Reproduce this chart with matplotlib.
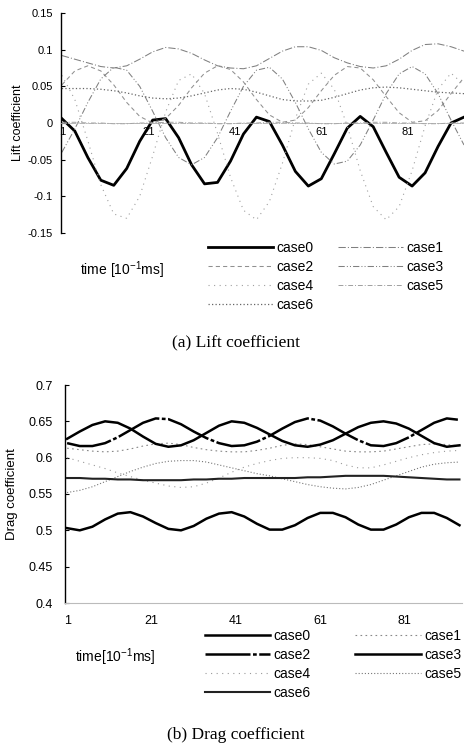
import matplotlib
matplotlib.use('Agg')
import matplotlib.pyplot as plt

plt.rcParams['font.family'] = ['Liberation Sans', 'DejaVu Sans']
plt.rcParams['axes.unicode_minus'] = False

# --------------------------
# data
# --------------------------
time_steps = list(range(1, 95, 3))
case_names = ['case0', 'case1', 'case2', 'case3', 'case4', 'case5', 'case6']
x_ticks = [1, 21, 41, 61, 81]

lift_case0 = [0.006, -0.011, -0.047, -0.078, -0.085, -0.062, -0.025, 0.004, 0.006, -0.020,
              -0.057, -0.083, -0.081, -0.052, -0.015, 0.008, 0.002, -0.030, -0.066, -0.086,
              -0.076, -0.042, -0.007, 0.009, -0.005, -0.040, -0.074, -0.086, -0.068, -0.032,
              0.000, 0.008]
lift_case1 = [0.092, 0.087, 0.082, 0.077, 0.075, 0.078, 0.087, 0.097, 0.103, 0.101,
              0.095, 0.086, 0.078, 0.075, 0.074, 0.078, 0.088, 0.098, 0.104, 0.104,
              0.099, 0.089, 0.082, 0.077, 0.075, 0.078, 0.087, 0.099, 0.107, 0.108,
              0.104, 0.098]
lift_case2 = [0.052, 0.071, 0.078, 0.071, 0.052, 0.028, 0.009, 0.000, 0.006, 0.024,
              0.048, 0.068, 0.078, 0.073, 0.056, 0.032, 0.011, 0.001, 0.004, 0.021,
              0.044, 0.065, 0.077, 0.075, 0.059, 0.036, 0.014, 0.001, 0.003, 0.017,
              0.040, 0.062]
lift_case3 = [-0.040, -0.008, 0.028, 0.060, 0.076, 0.072, 0.050, 0.016, -0.020, -0.047,
              -0.057, -0.047, -0.020, 0.016, 0.050, 0.072, 0.076, 0.060, 0.028, -0.008,
              -0.040, -0.056, -0.052, -0.030, 0.004, 0.040, 0.067, 0.077, 0.067, 0.040,
              0.004, -0.030]
lift_case4 = [0.065, 0.032, -0.024, -0.084, -0.124, -0.130, -0.100, -0.045, 0.015, 0.058,
              0.067, 0.040, -0.014, -0.074, -0.119, -0.132, -0.107, -0.055, 0.006, 0.053,
              0.068, 0.046, -0.004, -0.065, -0.114, -0.132, -0.114, -0.065, -0.004, 0.046,
              0.068, 0.052]
lift_case5 = [0.001, 0.001, 0.000, 0.000, -0.001, -0.001, 0.000, 0.000, 0.001, 0.001,
              0.000, 0.000, -0.001, -0.001, 0.000, 0.000, 0.001, 0.001, 0.000, 0.000,
              -0.001, -0.001, 0.000, 0.000, 0.001, 0.001, 0.000, 0.000, -0.001, -0.001,
              0.000, 0.000]
lift_case6 = [0.047, 0.047, 0.047, 0.046, 0.044, 0.041, 0.037, 0.034, 0.033, 0.034,
              0.037, 0.041, 0.045, 0.047, 0.046, 0.042, 0.037, 0.032, 0.030, 0.030,
              0.031, 0.035, 0.040, 0.045, 0.048, 0.049, 0.048, 0.046, 0.044, 0.042,
              0.041, 0.040]

drag_case0 = [0.503, 0.500, 0.505, 0.515, 0.523, 0.525, 0.519, 0.510, 0.502, 0.500,
              0.506, 0.516, 0.523, 0.525, 0.519, 0.509, 0.501, 0.501, 0.507, 0.517,
              0.524, 0.524, 0.518, 0.508, 0.501, 0.501, 0.508, 0.518, 0.524, 0.524,
              0.517, 0.507]
drag_case1 = [0.613, 0.611, 0.609, 0.608, 0.609, 0.612, 0.616, 0.619, 0.620, 0.618,
              0.614, 0.611, 0.609, 0.608, 0.608, 0.610, 0.613, 0.617, 0.619, 0.618,
              0.615, 0.612, 0.609, 0.608, 0.608, 0.609, 0.612, 0.615, 0.618, 0.619,
              0.618, 0.616]
drag_case2 = [0.620, 0.616, 0.616, 0.620, 0.628, 0.638, 0.648, 0.654, 0.653, 0.646,
              0.636, 0.627, 0.620, 0.616, 0.617, 0.622, 0.630, 0.640, 0.649, 0.654,
              0.651, 0.643, 0.633, 0.624, 0.617, 0.616, 0.620, 0.628, 0.638, 0.648,
              0.654, 0.652]
drag_case3 = [0.626, 0.636, 0.645, 0.650, 0.648, 0.640, 0.629, 0.619, 0.615, 0.617,
              0.624, 0.634, 0.644, 0.650, 0.648, 0.641, 0.632, 0.623, 0.617, 0.615,
              0.618, 0.624, 0.633, 0.642, 0.648, 0.650, 0.647, 0.640, 0.630, 0.620,
              0.615, 0.617]
drag_case4 = [0.600, 0.595, 0.590, 0.585, 0.579, 0.574, 0.569, 0.565, 0.561, 0.559,
              0.560, 0.565, 0.572, 0.580, 0.587, 0.592, 0.596, 0.599, 0.600, 0.600,
              0.599, 0.596, 0.590, 0.586, 0.586, 0.590, 0.595, 0.600, 0.604, 0.607,
              0.609, 0.610]
drag_case5 = [0.552, 0.555, 0.560, 0.567, 0.574, 0.581, 0.587, 0.592, 0.595, 0.596,
              0.596, 0.594, 0.590, 0.586, 0.582, 0.578, 0.575, 0.571, 0.567, 0.563,
              0.560, 0.558, 0.557, 0.559, 0.563, 0.569, 0.575, 0.581, 0.587, 0.591,
              0.593, 0.594]
drag_case6 = [0.572, 0.572, 0.571, 0.571, 0.570, 0.570, 0.569, 0.569, 0.569, 0.569,
              0.570, 0.570, 0.571, 0.571, 0.572, 0.572, 0.572, 0.572, 0.572, 0.573,
              0.573, 0.574, 0.575, 0.575, 0.575, 0.575, 0.574, 0.573, 0.572, 0.571,
              0.570, 0.570]

lift_data = [lift_case0, lift_case1, lift_case2, lift_case3, lift_case4, lift_case5, lift_case6]
drag_data = [drag_case0, drag_case1, drag_case2, drag_case3, drag_case4, drag_case5, drag_case6]

# line styles (scanned figure, mostly greys)
lift_styles = [
    dict(color='black', lw=2.0, ls='-'),
    dict(color='#808080', lw=0.75, ls=(0, (7, 2, 1, 2))),
    dict(color='#909090', lw=0.75, ls=(0, (4, 3))),
    dict(color='#808080', lw=0.75, ls=(0, (6, 2, 1, 2, 1, 2))),
    dict(color='#a0a0a0', lw=0.8, ls=(0, (1, 4))),
    dict(color='#a0a0a0', lw=0.7, ls=(0, (5, 2, 1, 2))),
    dict(color='#666666', lw=0.9, ls=(0, (1, 1.8))),
]
drag_styles = [
    dict(color='black', lw=1.8, ls='-'),
    dict(color='#888888', lw=0.8, ls=(0, (1.5, 3))),
    dict(color='black', lw=1.8, ls=(0, (18, 1, 1.5, 1))),
    dict(color='black', lw=1.8, ls='-'),
    dict(color='#9a9a9a', lw=0.8, ls=(0, (1, 4))),
    dict(color='#777777', lw=0.8, ls=(0, (1, 1.8))),
    dict(color='#222222', lw=1.5, ls='-'),
]

W, H = 467, 747
fig = plt.figure(figsize=(W / 100, H / 100), dpi=100)

def style_axes(ax, ylim, yticks, ylabels, ylabel, ypad, tsize, lsize):
    ax.set_ylim(*ylim)
    ax.set_yticks(yticks)
    ax.set_yticklabels(ylabels)
    ax.set_xticks(x_ticks)
    ax.set_xticklabels([str(v) for v in x_ticks])
    ax.spines['top'].set_visible(False)
    ax.spines['right'].set_visible(False)
    ax.spines['left'].set_linewidth(1.0)
    ax.tick_params(axis='y', direction='in', length=3, width=0.8, labelsize=tsize, pad=ypad)
    ax.tick_params(axis='x', length=0, labelsize=tsize)
    ax.set_ylabel(ylabel, fontsize=lsize)

# --------------------------
# (a) lift coefficient
# --------------------------
ax1 = fig.add_axes([61 / W, 1 - 233 / H, 403 / W, 220 / H])
for vals, st in zip(lift_data, lift_styles):
    ax1.plot(time_steps, vals, **st)
ax1.set_xlim(0.8, 94)
style_axes(ax1, (-0.15, 0.15), [-0.15, -0.1, -0.05, 0, 0.05, 0.1, 0.15],
           ['-0.15', '-0.1', '-0.05', '0', '0.05', '0.1', '0.15'], 'Lift coefficient', 6, 8, 9)
ax1.spines['bottom'].set_position(('data', 0))
ax1.spines['bottom'].set_color('#aaaaaa')
ax1.spines['bottom'].set_linewidth(0.6)
ax1.spines['bottom'].set_linestyle((0, (6, 2, 1, 2)))
ax1.tick_params(axis='x', pad=3)
ax1.yaxis.set_label_coords(-0.092, 0.5)

# --------------------------
# (b) drag coefficient
# --------------------------
ax2 = fig.add_axes([65 / W, 1 - 603 / H, 397 / W, 218 / H])
for vals, st in zip(drag_data, drag_styles):
    ax2.plot(time_steps, vals, **st)
ax2.set_xlim(0.5, 94.6)
style_axes(ax2, (0.4, 0.7), [0.4, 0.45, 0.5, 0.55, 0.6, 0.65, 0.7],
           ['0.4', '0.45', '0.5', '0.55', '0.6', '0.65', '0.7'], 'Drag coefficient', 9, 9, 9.5)
ax2.spines['bottom'].set_color('#bbbbbb')
ax2.spines['bottom'].set_linewidth(0.8)
ax2.tick_params(axis='x', pad=9)
ax2.yaxis.set_label_coords(-0.118, 0.5)

# --------------------------
# legends, axis titles, captions
# --------------------------
order = [0, 2, 4, 6, 1, 3, 5]

def add_legend(ax, x, y, colspace):
    lines = ax.get_lines()
    fig.legend([lines[i] for i in order], [case_names[i] for i in order],
               loc='upper left', bbox_to_anchor=(x, y), ncol=2, frameon=False,
               fontsize=10, handlelength=4.7, handletextpad=0.25,
               columnspacing=colspace, labelspacing=0.36, borderpad=0, borderaxespad=0)

add_legend(ax1, 208 / W, 1 - 241 / H, 1.7)
add_legend(ax2, 205 / W, 1 - 629 / H, 3.2)

fig.text(80 / W, 1 - 270 / H, 'time [10$^{\\mathregular{-1}}$ms]', fontsize=10, va='center')
fig.text(75 / W, 1 - 657 / H, 'time[10$^{\\mathregular{-1}}$ms]', fontsize=10, va='center')

fig.text(236 / W, 1 - 343 / H, '(a) Lift coefficient', fontsize=12.5,
         family='Liberation Serif', ha='center', va='center')
fig.text(236 / W, 1 - 735 / H, '(b) Drag coefficient', fontsize=12.5,
         family='Liberation Serif', ha='center', va='center')

fig.savefig('out.png', dpi=100)
